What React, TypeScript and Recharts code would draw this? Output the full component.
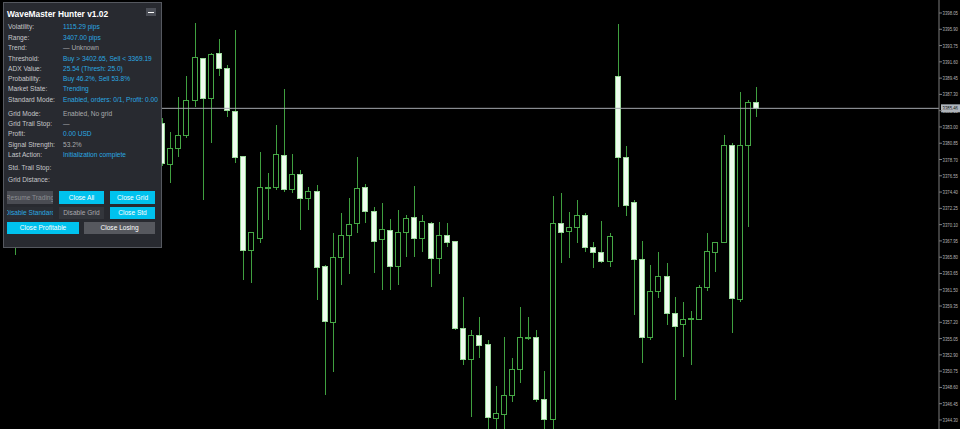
import React from 'react';
import { ComposedChart, Bar, XAxis, YAxis, ReferenceLine } from 'recharts';

// ---- candle data (index = bar slot; null = hidden behind the panel) ----
const HIDDEN17 = Array(17).fill(null);

const opens: (number | null)[] = [
  null, 3369.39, ...HIDDEN17,
  3383.52, 3378.11, 3380.22, 3381.94, 3386.56, 3392.11, 3386.82, 3392.77, 3390.79, 3385.11,
  3379.17, 3366.75, 3368.34, 3374.94, 3375.07, 3379.30, 3374.81, 3376.79, 3373.62, 3374.54,
  3364.64, 3357.24, 3365.82, 3368.73, 3370.32, 3375.07, 3371.90, 3368.20, 3369.39, 3364.64,
  3369.13, 3371.11, 3368.34, 3370.32, 3365.69, 3368.73, 3367.94, 3356.45, 3352.36, 3355.53,
  3354.34, 3344.57, 3345.10, 3347.60, 3351.04, 3355.13, 3355.26, 3347.07, 3344.43, 3370.32,
  3369.26, 3369.79, 3371.37, 3367.15, 3366.49, 3365.30, 3389.73, 3379.03, 3373.09, 3365.56,
  3355.26, 3361.33, 3363.32, 3358.43, 3356.98, 3357.64, 3357.64, 3361.86, 3366.49, 3367.81,
  3380.62, 3360.28, 3380.62, 3386.30,
];
const highs: (number | null)[] = [
  null, 3370.05, ...HIDDEN17,
  3384.18, 3382.33, 3386.96, 3389.73, 3396.73, 3392.11, 3392.77, 3394.62, 3391.18, 3395.80,
  3379.17, 3369.13, 3379.69, 3376.92, 3383.26, 3388.01, 3379.43, 3377.32, 3375.07, 3375.34,
  3364.77, 3369.00, 3371.64, 3373.62, 3379.03, 3375.47, 3372.43, 3372.96, 3370.84, 3372.03,
  3371.37, 3375.20, 3371.37, 3370.45, 3370.45, 3370.32, 3367.94, 3360.54, 3356.18, 3357.90,
  3354.87, 3348.79, 3355.26, 3352.49, 3359.22, 3357.90, 3356.18, 3350.77, 3373.88, 3374.28,
  3371.77, 3373.35, 3371.64, 3367.81, 3370.58, 3369.00, 3396.60, 3380.49, 3373.35, 3367.94,
  3364.77, 3366.49, 3365.03, 3360.54, 3359.88, 3358.69, 3362.13, 3369.00, 3367.81, 3381.94,
  3380.88, 3387.62, 3386.56, 3388.28,
];
const lows: (number | null)[] = [
  null, 3366.09, ...HIDDEN17,
  3377.84, 3375.60, 3379.03, 3381.54, 3385.64, 3373.35, 3380.88, 3389.73, 3384.32, 3378.24,
  3362.79, 3362.39, 3367.68, 3370.71, 3374.68, 3374.41, 3374.28, 3369.39, 3372.03, 3360.15,
  3347.60, 3350.64, 3362.13, 3363.58, 3369.00, 3370.32, 3363.71, 3361.47, 3361.47, 3362.13,
  3365.82, 3365.82, 3366.49, 3361.86, 3363.58, 3367.15, 3356.18, 3351.56, 3344.70, 3352.49,
  3342.32, 3342.32, 3342.32, 3346.68, 3349.19, 3354.87, 3346.68, 3342.32, 3342.32, 3365.03,
  3365.69, 3367.68, 3366.49, 3364.37, 3365.03, 3364.50, 3372.43, 3371.24, 3358.16, 3351.83,
  3354.87, 3360.41, 3356.85, 3346.94, 3352.62, 3351.56, 3357.64, 3361.33, 3363.84, 3367.81,
  3355.79, 3359.88, 3369.79, 3384.32,
];
const closes: (number | null)[] = [
  null, 3368.07, ...HIDDEN17,
  3378.24, 3380.22, 3381.94, 3386.56, 3392.24, 3386.82, 3392.64, 3390.79, 3385.24, 3379.03,
  3366.75, 3369.13, 3375.07, 3375.07, 3379.43, 3374.81, 3376.79, 3373.62, 3374.54, 3364.50,
  3357.37, 3365.82, 3368.73, 3370.18, 3374.94, 3371.90, 3367.94, 3369.53, 3364.64, 3369.13,
  3370.98, 3368.34, 3370.58, 3365.69, 3368.73, 3367.81, 3356.45, 3352.36, 3355.53, 3354.21,
  3344.70, 3345.23, 3347.60, 3351.04, 3355.26, 3355.26, 3347.07, 3344.43, 3370.32, 3369.13,
  3369.79, 3371.37, 3367.15, 3366.49, 3365.30, 3368.60, 3379.03, 3372.69, 3365.56, 3355.26,
  3361.33, 3363.32, 3358.43, 3356.71, 3357.64, 3357.77, 3361.86, 3366.62, 3367.81, 3380.62,
  3360.41, 3380.62, 3386.30, 3385.46,
];

const TOTAL_SLOTS = 115; // includes empty space to the right of the last bar
const bidPrice = 3385.46;

const priceTicks = [
  3398.05, 3395.90, 3393.75, 3391.60, 3389.45, 3387.30, 3385.15, 3383.00, 3380.85,
  3378.70, 3376.55, 3374.40, 3372.25, 3370.10, 3367.95, 3365.80, 3363.65, 3361.50,
  3359.35, 3357.20, 3355.05, 3352.90, 3350.75, 3348.60, 3346.45, 3344.30,
];
const priceDomain: [number, number] = [3341.656, 3399.767];

// ---- panel content ----
const panelTitle = 'WaveMaster Hunter v1.02';
const rowLabels = [
  'Volatility:', 'Range:', 'Trend:', 'Threshold:', 'ADX Value:', 'Probability:', 'Market State:',
  'Standard Mode:', 'Grid Mode:', 'Grid Trail Stop:', 'Profit:', 'Signal Strength:', 'Last Action:',
  'Std. Trail Stop:', 'Grid Distance:',
];
const rowValues = [
  '1115.29 pips', '3407.00 pips', '\u2014 Unknown', 'Buy > 3402.65, Sell < 3369.19',
  '25.54 (Thresh: 25.0)', 'Buy 46.2%, Sell 53.8%', 'Trending', 'Enabled, orders: 0/1, Profit: 0.00',
  'Enabled, No grid', '\u2014', '0.00 USD', '53.2%', 'Initialization complete', '', '',
];
const rowValueIsInfo = [true, true, false, true, true, true, true, true, false, false, true, false, true, false, false];
const rowCenters = [26.7, 37.7, 48.3, 58.7, 69, 79, 89, 99.8, 113.8, 123.8, 134.3, 145, 155, 167.7, 180];

const buttonLabels = ['Resume Trading', 'Close All', 'Close Grid', 'Disable Standard', 'Disable Grid', 'Close Std', 'Close Profitable', 'Close Losing'];
const buttonLayout = [
  { x: 7, y: 191, w: 46, h: 13, bg: '#4a4c53', fg: '#8b8d92' },
  { x: 59, y: 191, w: 45, h: 13, bg: '#00c2ee', fg: '#ffffff' },
  { x: 110, y: 191, w: 45, h: 13, bg: '#00c2ee', fg: '#ffffff' },
  { x: 7, y: 207, w: 46, h: 12, bg: '#2b2e34', fg: '#2aa8e0' },
  { x: 59, y: 207, w: 45, h: 12, bg: '#33363c', fg: '#a8a8ac' },
  { x: 110, y: 207, w: 45, h: 12, bg: '#00c2ee', fg: '#ffffff' },
  { x: 7, y: 222, w: 72, h: 12, bg: '#00c2ee', fg: '#ffffff' },
  { x: 84, y: 222, w: 71, h: 12, bg: '#56585e', fg: '#ffffff' },
];

const data = Array.from({ length: TOTAL_SLOTS }, (_, i) => {
  const o = i < opens.length ? opens[i] : null;
  const h = i < highs.length ? highs[i] : null;
  const l = i < lows.length ? lows[i] : null;
  const c = i < closes.length ? closes[i] : null;
  return { i, o, h, l, c, range: o == null || h == null || l == null ? null : [l, h] };
});

const WICK = '#3f9f3f';
const BULL_STROKE = '#46a846';
const BEAR_FILL = '#eefcee';
const BEAR_STROKE = '#9ad89a';

const Candle = (props: any) => {
  const { x, y, width, height, payload } = props;
  if (!payload || payload.o == null || payload.range == null) return null;
  const { o, h, l, c } = payload;
  const top = Math.min(y, y + height);
  const bot = Math.max(y, y + height);
  const span = h - l;
  const py = (p: number) => (span === 0 ? top : top + ((h - p) / span) * (bot - top));
  const cx = Math.round(x + width / 2);
  const bull = c >= o;
  const yo = py(o);
  const yc = py(c);
  const bt = Math.round(Math.min(yo, yc));
  const bb = Math.round(Math.max(yo, yc));
  const wt = Math.round(top);
  const wb = Math.round(bot);
  return (
    <g>
      <line x1={cx + 0.5} x2={cx + 0.5} y1={wt} y2={wb} stroke={WICK} strokeWidth={1} />
      {bb - bt < 1 ? (
        <line x1={cx - 3} x2={cx + 3} y1={bt + 0.5} y2={bt + 0.5} stroke={bull ? BULL_STROKE : BEAR_STROKE} strokeWidth={1} />
      ) : (
        <rect
          x={cx - 2.5}
          y={bt + 0.5}
          width={5}
          height={bb - bt}
          fill={bull ? '#000000' : BEAR_FILL}
          stroke={bull ? BULL_STROKE : BEAR_STROKE}
          strokeWidth={1}
        />
      )}
    </g>
  );
};

const PriceTick = (props: any) => {
  const { x, y, payload } = props;
  return (
    <text
      x={x}
      y={y}
      dy={2}
      fill="#b4b4b4"
      fontSize={5.6}
      fontFamily="'Liberation Sans', Arial, sans-serif"
      textLength={15.5}
      lengthAdjust="spacingAndGlyphs"
    >
      {Number(payload.value).toFixed(2)}
    </text>
  );
};

const BidLabel = (props: any) => {
  const vb = props.viewBox || {};
  const rx = (vb.x || 0) + (vb.width || 0) + 2;
  const ry = vb.y || 0;
  return (
    <g>
      <rect x={rx} y={ry - 4} width={19} height={8} fill="#aeb5bd" />
      <text
        x={rx + 1.5}
        y={ry + 2}
        fill="#111"
        fontSize={5.6}
        fontFamily="'Liberation Sans', Arial, sans-serif"
        textLength={15.5}
        lengthAdjust="spacingAndGlyphs"
      >
        {bidPrice.toFixed(2)}
      </text>
    </g>
  );
};

const FONT = "'Liberation Sans', Arial, sans-serif";

const Panel = () => (
  <div
    style={{
      position: 'absolute',
      left: 3,
      top: 2,
      width: 159,
      height: 246,
      boxSizing: 'border-box',
      background: '#282a30',
      border: '1px solid #55585f',
      overflow: 'hidden',
      fontFamily: FONT,
    }}
  >
    <div
      style={{
        position: 'absolute',
        left: 3,
        top: 6,
        height: 10,
        lineHeight: '10px',
        fontSize: 8.4,
        fontWeight: 700,
        color: '#ffffff',
        whiteSpace: 'nowrap',
      }}
    >
      {panelTitle}
    </div>
    <div style={{ position: 'absolute', left: 142, top: 5, width: 10, height: 8, background: '#4b4e56' }}>
      <div style={{ position: 'absolute', left: 2, top: 3.5, width: 6, height: 1, background: '#ffffff' }} />
    </div>
    {rowLabels.map((lab, idx) => (
      <React.Fragment key={lab}>
        <div
          style={{
            position: 'absolute',
            left: 4,
            top: rowCenters[idx] - 3 - 5,
            height: 10,
            lineHeight: '10px',
            fontSize: 6.6,
            color: '#c6c7ca',
            whiteSpace: 'nowrap',
          }}
        >
          {lab}
        </div>
        {rowValues[idx] !== '' && (
          <div
            style={{
              position: 'absolute',
              left: 59,
              top: rowCenters[idx] - 3 - 5,
              height: 10,
              lineHeight: '10px',
              fontSize: 6.6,
              color: rowValueIsInfo[idx] ? '#2aa8e0' : '#a9aaae',
              whiteSpace: 'nowrap',
            }}
          >
            {rowValues[idx]}
          </div>
        )}
      </React.Fragment>
    ))}
    {buttonLabels.map((lab, idx) => {
      const b = buttonLayout[idx];
      return (
        <div
          key={lab}
          style={{
            position: 'absolute',
            left: b.x - 4,
            top: b.y - 3,
            width: b.w,
            height: b.h,
            background: b.bg,
            color: b.fg,
            fontSize: 6.6,
            lineHeight: b.h + 'px',
            overflow: 'hidden',
            whiteSpace: 'nowrap',
            display: 'flex',
            justifyContent: 'center',
          }}
        >
          <span style={{ flex: 'none' }}>{lab}</span>
        </div>
      );
    })}
  </div>
);

export default function App() {
  return (
    <div style={{ position: 'fixed', left: 0, top: 0, width: 960, height: 429, background: '#000', overflow: 'hidden' }}>
      <ComposedChart width={960} height={440} data={data} margin={{ top: 0, right: 0, bottom: 0, left: 3 }}>
        <XAxis dataKey="i" type="category" hide />
        <YAxis
          orientation="right"
          width={21}
          type="number"
          domain={priceDomain}
          allowDataOverflow
          ticks={priceTicks}
          interval={0}
          tickSize={3}
          tickMargin={0.5}
          axisLine={{ stroke: '#7c7c7c' }}
          tickLine={{ stroke: '#7c7c7c' }}
          tick={<PriceTick />}
        />
        <Bar dataKey="range" shape={<Candle />} isAnimationActive={false} />
        <ReferenceLine y={bidPrice} stroke="#a4a8ae" strokeWidth={1} label={(p: any) => <BidLabel {...p} />} />
      </ComposedChart>
      <Panel />
    </div>
  );
}
